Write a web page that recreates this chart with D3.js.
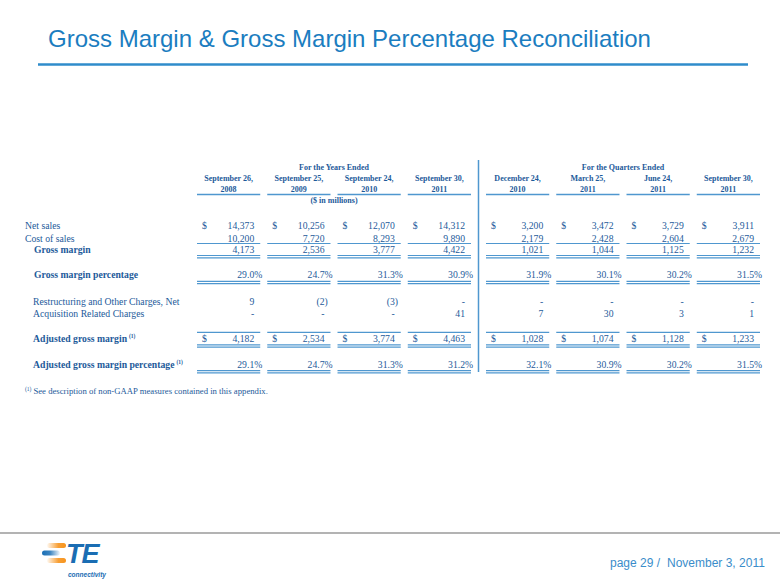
<!DOCTYPE html>
<html>
<head>
<meta charset="utf-8">
<script src="https://cdn.jsdelivr.net/npm/d3@7"></script>
<style>
  html, body { margin: 0; padding: 0; background: #fff; }
  svg { display: block; }
</style>
</head>
<body>
<script>
// ---------------- DATA ----------------
const periods = ["FY2008", "FY2009", "FY2010", "FY2011", "Q1FY11", "Q2FY11", "Q3FY11", "Q4FY11"];
const yearPeriods = periods.slice(0, 4);
const quarterPeriods = periods.slice(4);
const headerLine1 = ["September 26,", "September 25,", "September 24,", "September 30,", "December 24,", "March 25,", "June 24,", "September 30,"];
const headerLine2 = ["2008", "2009", "2010", "2011", "2010", "2011", "2011", "2011"];
const groupTitles = ["For the Years Ended", "For the Quarters Ended"];

const netSales        = [14373, 10256, 12070, 14312, 3200, 3472, 3729, 3911];
const costOfSales     = [10200, 7720, 8293, 9890, 2179, 2428, 2604, 2679];
const grossMargin     = [4173, 2536, 3777, 4422, 1021, 1044, 1125, 1232];
const grossMarginPct  = [29.0, 24.7, 31.3, 30.9, 31.9, 30.1, 30.2, 31.5];
const restructuring   = [9, -2, -3, null, null, null, null, null];
const acquisition     = [null, null, null, 41, 7, 30, 3, 1];
const adjGrossMargin  = [4182, 2534, 3774, 4463, 1028, 1074, 1128, 1233];
const adjGrossMarginPct = [29.1, 24.7, 31.3, 31.2, 32.1, 30.9, 30.2, 31.5];

// ---------------- STYLE ----------------
const W = 780, H = 585;
const TEXT = "#1d5a9a";
const LINE = "#4f97cf";
const SERIF = "'Liberation Serif', 'Times New Roman', serif";
const SANS = "'Liberation Sans', Arial, sans-serif";

const svg = d3.select("body").append("svg").attr("width", W).attr("height", H);
svg.append("rect").attr("width", W).attr("height", H).attr("fill", "#fff");

// Title
svg.append("text").attr("x", 48).attr("y", 47)
  .attr("font-family", SANS).attr("font-size", 24).attr("fill", "#1b7dc0")
  .text("Gross Margin & Gross Margin Percentage Reconciliation");
svg.append("line").attr("x1", 38).attr("x2", 748).attr("y1", 64.5).attr("y2", 64.5)
  .attr("stroke", "#2f8ccb").attr("stroke-width", 2.5);

// Column scales
const xYears = d3.scaleBand().domain(yearPeriods).range([197, 471]).paddingInner(0.1);
const xQuarters = d3.scaleBand().domain(quarterPeriods).range([486, 760]).paddingInner(0.1);
const colX = p => (yearPeriods.includes(p) ? xYears(p) : xQuarters(p));
const bw = xYears.bandwidth();

const g = svg.append("g");

// Group headings
[[xYears, groupTitles[0]], [xQuarters, groupTitles[1]]].forEach(([sc, t]) => {
  const r = sc.range();
  g.append("text").attr("x", (r[0] + r[1]) / 2).attr("y", 170)
    .attr("text-anchor", "middle").attr("font-family", SERIF).attr("font-weight", "bold")
    .attr("font-size", 8).attr("fill", TEXT).text(t);
});
// Column headers
periods.forEach((p, i) => {
  const cx = colX(p) + bw / 2;
  g.append("text").attr("x", cx).attr("y", 181).attr("text-anchor", "middle")
    .attr("font-family", SERIF).attr("font-weight", "bold").attr("font-size", 8)
    .attr("fill", TEXT).text(headerLine1[i]);
  g.append("text").attr("x", cx).attr("y", 192).attr("text-anchor", "middle")
    .attr("font-family", SERIF).attr("font-weight", "bold").attr("font-size", 8)
    .attr("fill", TEXT).text(headerLine2[i]);
  g.append("line").attr("x1", colX(p)).attr("x2", colX(p) + bw).attr("y1", 194.5).attr("y2", 194.5)
    .attr("stroke", LINE).attr("stroke-width", 1.5);
});
{
  const r = xYears.range();
  g.append("text").attr("x", (r[0] + r[1]) / 2).attr("y", 203).attr("text-anchor", "middle")
    .attr("font-family", SERIF).attr("font-weight", "bold").attr("font-size", 8)
    .attr("fill", TEXT).text("($ in millions)");
}
// Divider
g.append("line").attr("x1", 478.5).attr("x2", 478.5).attr("y1", 160).attr("y2", 372)
  .attr("stroke", LINE).attr("stroke-width", 1.5);

// Formatting
const fInt = d3.format(",");
const fPct = d3.format(".1f");
function parts(v, kind) {
  if (v === null || v === undefined) return ["-", ""];
  if (kind === "pct") return [fPct(v), "%"];
  if (v < 0) return ["(" + fInt(-v), ")"];
  return [fInt(v), ""];
}

const rows = [
  { label: "Net sales", data: netSales, y: 228.5, indent: 25, bold: false, dollar: true },
  { label: "Cost of sales", data: costOfSales, y: 241.5, indent: 25, bold: false, under: [243.5] },
  { label: "Gross margin", data: grossMargin, y: 252.5, indent: 34, bold: true, under: [255.5, 257.8] },
  { label: "Gross margin percentage", data: grossMarginPct, y: 278.3, indent: 34, bold: true, pct: true, under: [281.3, 283.6] },
  { label: "Restructuring and Other Charges, Net", data: restructuring, y: 304.5, indent: 33, bold: false },
  { label: "Acquisition Related Charges", data: acquisition, y: 316.8, indent: 33, bold: false },
  { label: "Adjusted gross margin", sup: "(1)", data: adjGrossMargin, y: 341.5, indent: 33, bold: true, dollar: true, over: 332.3, under: [344.8, 347.1] },
  { label: "Adjusted gross margin percentage", sup: "(1)", data: adjGrossMarginPct, y: 367.5, indent: 33, bold: true, pct: true, under: [370.6, 372.9] }
];

rows.forEach(row => {
  const t = g.append("text").attr("x", row.indent).attr("y", row.y)
    .attr("font-family", SERIF).attr("font-size", 9.7).attr("fill", TEXT)
    .attr("font-weight", row.bold ? "bold" : "normal").text(row.label);
  if (row.sup) {
    t.append("tspan").attr("font-size", 5.5).attr("dx", 2).attr("dy", -3.5).attr("font-weight", "bold").text(row.sup);
  }
  periods.forEach((p, i) => {
    const x0 = colX(p), x1 = x0 + bw;
    const [main, suf] = parts(row.data[i], row.pct ? "pct" : "num");
    const xr = x1 - 6;
    g.append("text").attr("x", xr).attr("y", row.y).attr("text-anchor", "end")
      .attr("font-family", SERIF).attr("font-size", 9.7).attr("fill", TEXT).text(main);
    if (suf) {
      g.append("text").attr("x", xr).attr("y", row.y).attr("text-anchor", "start")
        .attr("font-family", SERIF).attr("font-size", 9.7).attr("fill", TEXT).text(suf);
    }
    if (row.dollar) {
      g.append("text").attr("x", x0 + 5).attr("y", row.y).attr("text-anchor", "start")
        .attr("font-family", SERIF).attr("font-size", 9.7).attr("fill", TEXT).text("$");
    }
    if (row.over !== undefined) {
      g.append("line").attr("x1", x0).attr("x2", x1).attr("y1", row.over).attr("y2", row.over)
        .attr("stroke", LINE).attr("stroke-width", 1.3);
    }
    (row.under || []).forEach(yy => {
      g.append("line").attr("x1", x0).attr("x2", x1).attr("y1", yy).attr("y2", yy)
        .attr("stroke", LINE).attr("stroke-width", 1.2);
    });
  });
});

// Footnote
{
  const t = g.append("text").attr("x", 25).attr("y", 394)
    .attr("font-family", SERIF).attr("font-size", 8.7).attr("fill", TEXT);
  t.append("tspan").attr("font-size", 5.5).attr("dy", -3).text("(1)");
  t.append("tspan").attr("dy", 3).attr("dx", 2).text("See description of non-GAAP measures contained in this appendix.");
}

// Footer
svg.append("line").attr("x1", 0).attr("x2", W).attr("y1", 533).attr("y2", 533)
  .attr("stroke", "#b3b3b3").attr("stroke-width", 2);
svg.append("text").attr("x", 610).attr("y", 567).attr("font-family", SANS).attr("font-size", 12)
  .attr("fill", "#3a8dca").text("page 29 /");
svg.append("text").attr("x", 667).attr("y", 567).attr("font-family", SANS).attr("font-size", 12)
  .attr("fill", "#3a8dca").text("November 3, 2011");

// Logo
const defs = svg.append("defs");
const og = defs.append("linearGradient").attr("id", "og").attr("x1", "0%").attr("x2", "100%");
og.append("stop").attr("offset", "0%").attr("stop-color", "#f7941d").attr("stop-opacity", 0.05);
og.append("stop").attr("offset", "60%").attr("stop-color", "#f7941d").attr("stop-opacity", 0.9);
og.append("stop").attr("offset", "100%").attr("stop-color", "#f7941d").attr("stop-opacity", 1);
const bg = defs.append("linearGradient").attr("id", "bg").attr("x1", "0%").attr("x2", "100%");
bg.append("stop").attr("offset", "0%").attr("stop-color", "#1a6fb5").attr("stop-opacity", 1);
bg.append("stop").attr("offset", "45%").attr("stop-color", "#1a6fb5").attr("stop-opacity", 0.85);
bg.append("stop").attr("offset", "100%").attr("stop-color", "#1a6fb5").attr("stop-opacity", 0.05);
const logo = svg.append("g");
logo.append("rect").attr("x", 47).attr("y", 543).attr("width", 19).attr("height", 5).attr("rx", 2.5).attr("fill", "url(#og)");
logo.append("rect").attr("x", 42).attr("y", 550.5).attr("width", 18).attr("height", 5).attr("rx", 2.5).attr("fill", "url(#bg)");
logo.append("rect").attr("x", 47).attr("y", 558).attr("width", 19).attr("height", 5).attr("rx", 2.5).attr("fill", "url(#og)");
logo.append("text").attr("x", 66).attr("y", 563).attr("font-family", SANS).attr("font-weight", "bold")
  .attr("font-style", "italic").attr("font-size", 27).attr("fill", "#1a6db3").attr("letter-spacing", -1).text("TE");
logo.append("text").attr("x", 68).attr("y", 576.5).attr("font-family", SANS).attr("font-weight", "bold")
  .attr("font-style", "italic").attr("font-size", 6.5).attr("fill", "#1a6db3").text("connectivity");
</script>
</body>
</html>
